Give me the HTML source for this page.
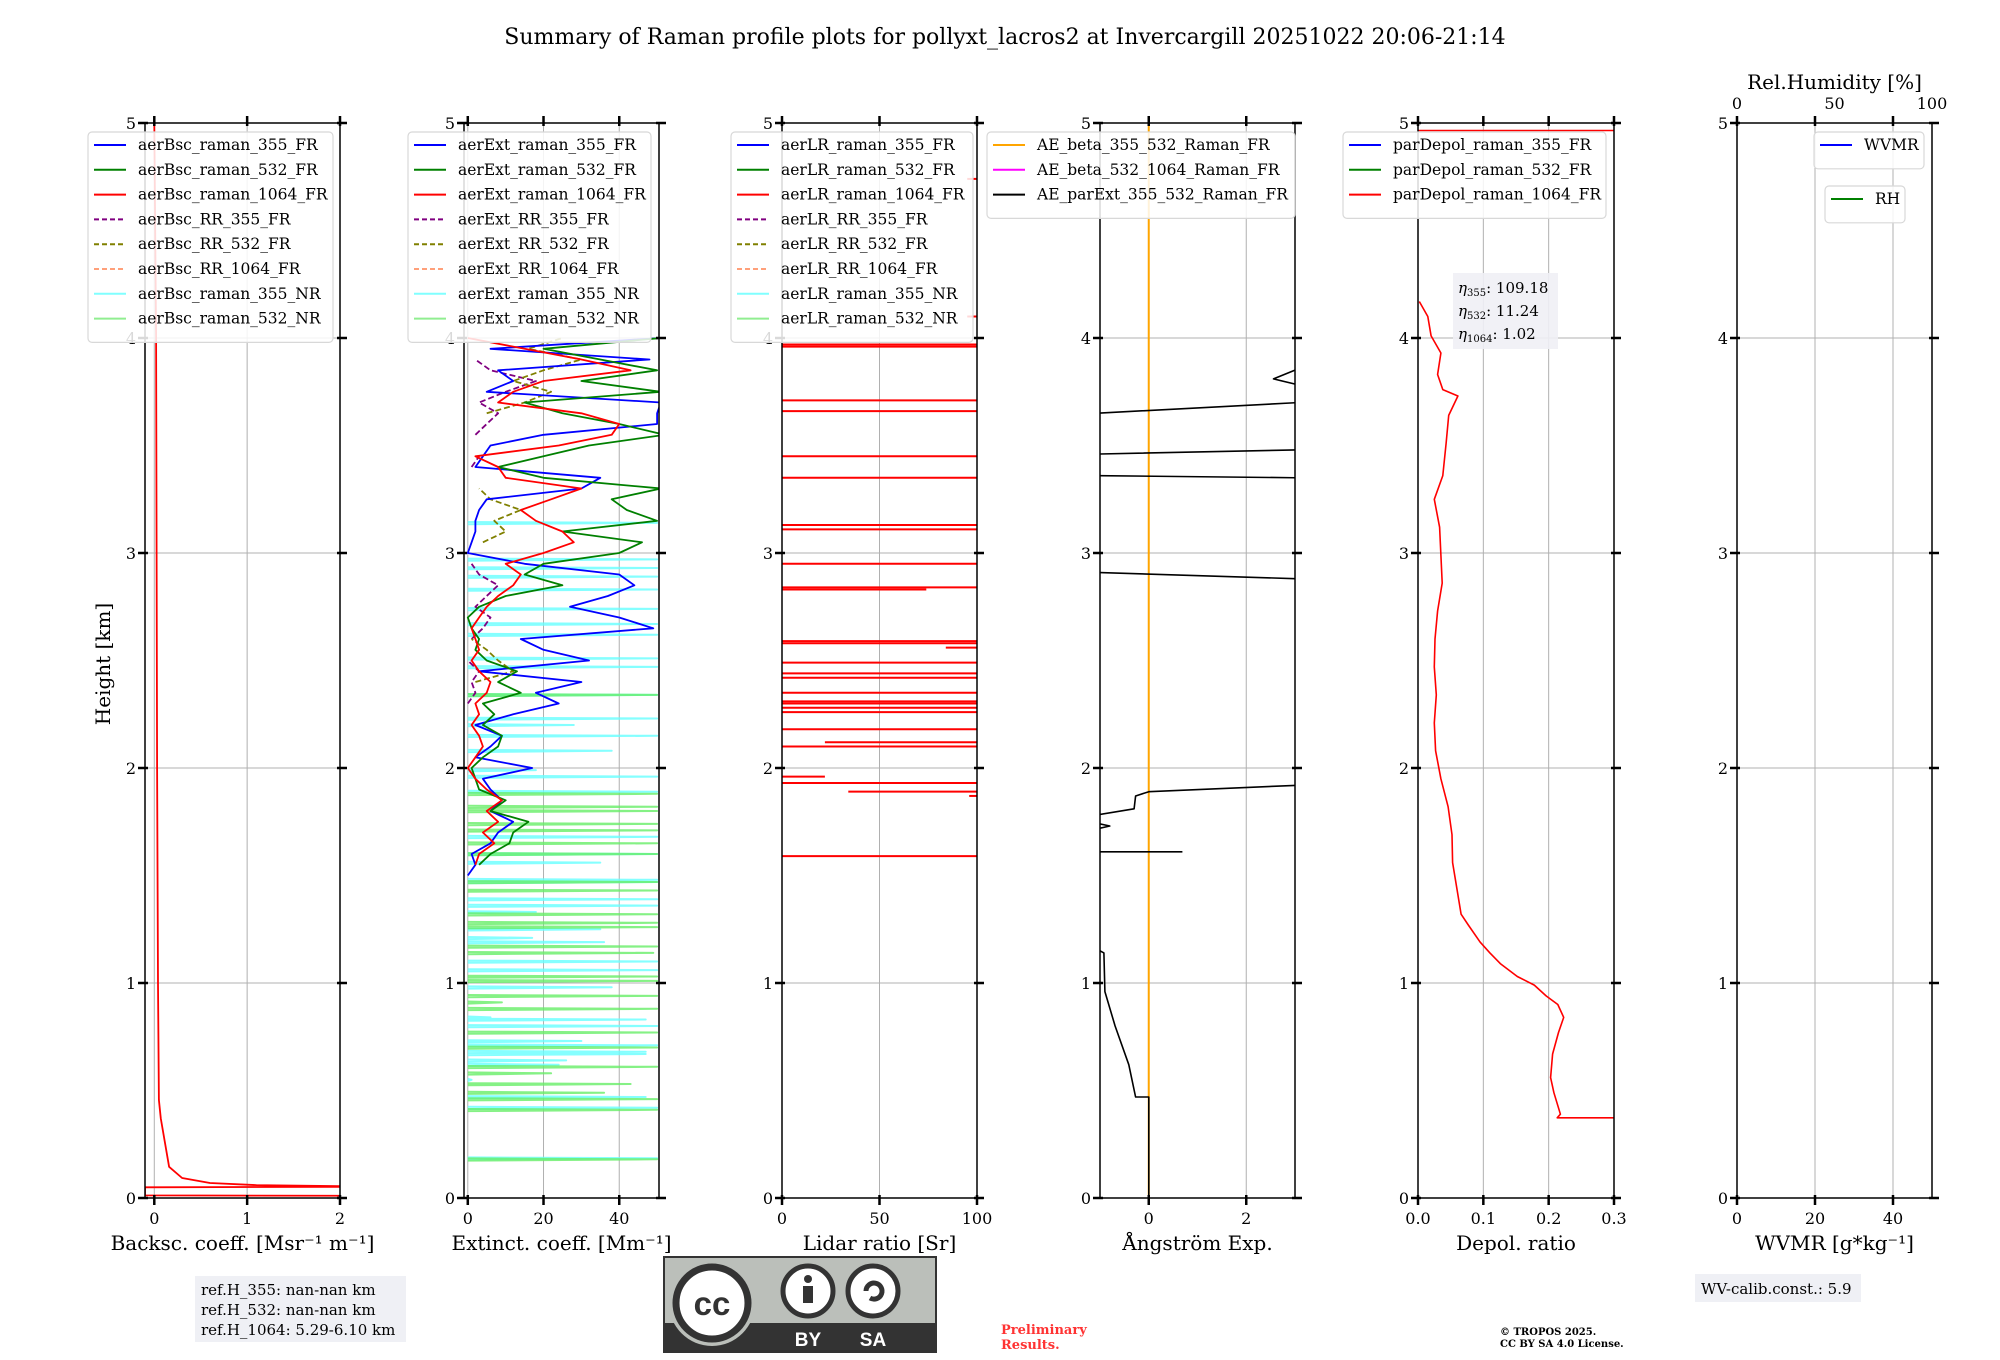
<!DOCTYPE html>
<html><head><meta charset="utf-8"><style>
body{margin:0;background:#fff}
svg{display:block;font-family:"DejaVu Serif","Liberation Serif",serif}
</style></head><body>
<svg id="fig" width="2000" height="1360" viewBox="0 0 2000 1360" xmlns="http://www.w3.org/2000/svg">
<text x="1005" y="44" font-size="22" text-anchor="middle">Summary of Raman profile plots for pollyxt_lacros2 at Invercargill 20251022 20:06-21:14</text>
<text x="110" y="664" font-size="20" text-anchor="middle" transform="rotate(-90 110 664)">Height [km]</text>
<g id="plots"></g>
<g>
<rect x="195" y="1276" width="211" height="66" fill="#eff0f5"/>
<text x="201" y="1295" font-size="15">ref.H_355: nan-nan km</text>
<text x="201" y="1315" font-size="15">ref.H_532: nan-nan km</text>
<text x="201" y="1335" font-size="15">ref.H_1064: 5.29-6.10 km</text>
</g>
<g>
<rect x="664" y="1257" width="272" height="95" fill="#bbbfba" stroke="#333" stroke-width="2"/>
<rect x="664" y="1323" width="272" height="29" fill="#333"/>
<circle cx="712" cy="1303" r="43" fill="#bbbfba"/>
<circle cx="712" cy="1303" r="36" fill="#fff" stroke="#333" stroke-width="7"/>
<text x="712" y="1315" font-size="33" font-weight="bold" font-family="Liberation Sans, sans-serif" text-anchor="middle" fill="#333">cc</text>
<circle cx="808" cy="1291" r="25" fill="#fff" stroke="#333" stroke-width="5"/>
<circle cx="808" cy="1279" r="4" fill="#333"/><rect x="803" y="1286" width="10" height="17" fill="#333"/>
<circle cx="873" cy="1291" r="25" fill="#fff" stroke="#333" stroke-width="5"/>
<path d="M866 1291 a8 8 0 1 1 4 7" fill="none" stroke="#333" stroke-width="5"/>
<text x="808" y="1346" font-size="19" font-weight="bold" font-family="Liberation Sans, sans-serif" fill="#fff" text-anchor="middle">BY</text>
<text x="873" y="1346" font-size="19" font-weight="bold" font-family="Liberation Sans, sans-serif" fill="#fff" text-anchor="middle">SA</text>
</g>
<text x="1001" y="1334" font-size="13" font-weight="bold" fill="#ff3333"><tspan x="1001">Preliminary</tspan><tspan x="1001" dy="15">Results.</tspan></text>
<text x="1500" y="1335" font-size="10" font-weight="bold"><tspan x="1500">© TROPOS 2025.</tspan><tspan x="1500" dy="12">CC BY SA 4.0 License.</tspan></text>
<g>
<rect x="1695" y="1274" width="166" height="28" fill="#eff0f5"/>
<text x="1701" y="1294" font-size="15">WV-calib.const.: 5.9</text>
</g>
</svg>
<script>
// ---------- data ----------
const bscHeights=[0.0,0.01,0.012,0.05,0.052,0.055,0.06,0.07,0.093,0.145,0.37,0.456,1.0,2.0,3.0,4.0,4.5,5.0];
const bscRaman1064=[2.1,2.1,-0.1,-0.1,2.1,2.0,1.1,0.6,0.3,0.16,0.07,0.05,0.04,0.03,0.025,0.02,0.01,0.0];

const extHeights=[1.50,1.55,1.60,1.65,1.70,1.75,1.80,1.85,1.90,1.95,2.00,2.05,2.10,2.15,2.20,2.25,2.30,2.35,2.40,2.45,2.50,2.55,2.60,2.65,2.70,2.75,2.80,2.85,2.90,2.95,3.00,3.05,3.10,3.15,3.20,3.25,3.30,3.35,3.40,3.45,3.50,3.55,3.60,3.65,3.70,3.75,3.80,3.85,3.90,3.95,4.00];
const ext355=[0,2,1,6,8,12,6,9,6,4,17,2,6,9,2,12,24,18,30,3,32,20,14,49,40,27,37,44,40,15,0,1,2,2,3,5,30,35,2,4,6,20,50,50,51,5,12,8,48,6,51];
const ext532=[null,3,6,11,12,16,6,10,3,2,1,4,8,9,4,7,4,14,8,13,5,2,3,1,0,3,10,25,15,20,40,46,25,50,42,38,51,20,8,20,32,52,40,25,15,51,30,50,35,20,51];
const ext1064=[null,2,3,7,4,8,5,9,5,2,0,2,4,3,1,3,2,5,6,3,1,3,2,1,3,5,8,12,14,10,20,28,25,18,14,22,30,10,8,2,24,38,40,30,8,12,20,43,30,15,0];
const extRR355=[null,null,null,null,null,null,null,null,null,null,null,null,null,null,null,null,0,2,1,3,0,null,1,4,6,2,5,8,3,1,null,null,null,null,null,null,null,null,1,3,null,2,5,8,3,10,18,6,2,null,null];
const extRR532=[null,null,null,null,null,null,null,null,null,null,null,null,null,null,null,null,null,null,2,12,8,5,1,null,null,null,null,null,null,null,null,4,10,7,14,6,3,null,null,null,null,null,null,5,15,22,12,20,30,16,25];
const nr355Heights=[0.185,0.42,0.47,0.55,0.62,0.64,0.67,0.68,0.71,0.73,0.80,0.83,0.84,0.98,1.06,1.10,1.19,1.21,1.25,1.33,1.36,1.39,1.47,1.48,1.56,1.60,1.68,1.89,1.96,1.99,2.08,2.15,2.20,2.23,2.34,2.47,2.51,2.62,2.67,2.74,2.83,2.89,2.93,2.97,3.14];
const nr355Values=[50,50,47,1,24,26,47,47,50,30,50,47,6,38,50,50,36,17,35,18,50,50,50,50,35,50,50,50,50,18,38,50,28,50,50,50,50,50,50,50,50,50,50,50,50];
const nr532Heights=[0.18,0.41,0.46,0.49,0.53,0.58,0.61,0.70,0.77,0.88,0.91,0.94,1.01,1.03,1.14,1.17,1.26,1.28,1.32,1.43,1.47,1.60,1.65,1.71,1.74,1.80,1.82,1.88,2.34];
const nr532Values=[50,50,50,36,43,22,50,50,50,50,9,50,50,50,49,50,50,50,50,50,50,50,50,50,50,50,50,50,50];

const lrHeights=[1.59,1.87,1.89,1.93,1.96,2.10,2.12,2.18,2.26,2.28,2.30,2.31,2.35,2.42,2.44,2.49,2.56,2.58,2.59,2.83,2.84,2.95,3.11,3.13,3.35,3.45,3.66,3.71,3.96,3.97,4.10,4.74];
const lrStart=[0,96,34,0,0,0,22,0,0,0,0,0,0,0,0,0,84,0,0,0,0,0,0,0,0,0,0,0,0,0,95,95];
const lrEnd=[100,100,100,100,20,100,100,100,100,100,100,100,100,100,100,100,100,100,100,72,100,100,100,100,100,100,100,100,100,100,100,100];

const aeHeights=[0,0.47,0.47,0.62,0.80,0.96,1.14,1.15,1.20,null,1.61,1.61,null,1.72,1.73,1.74,null,1.78,1.81,1.87,1.89,1.92,null,2.91,2.88,null,3.36,3.35,null,3.46,3.48,null,3.65,3.70,null,3.78,3.81,3.86];
const aeParExt=[0,0,-0.27,-0.41,-0.69,-0.9,-0.92,-1,-1.1,null,-1.1,0.69,null,-1,-0.8,-1,null,-1.1,-0.3,-0.27,0,3.1,null,-1.1,3.1,null,-1.1,3.1,null,-1.1,3.1,null,-1.1,3.1,null,3.1,2.56,3.1];

const dpHeights=[0.373,0.373,0.39,0.49,0.56,0.67,0.77,0.84,0.90,0.94,0.99,1.03,1.09,1.14,1.19,1.27,1.32,1.43,1.56,1.69,1.82,1.95,2.08,2.21,2.34,2.47,2.60,2.73,2.86,2.99,3.12,3.25,3.36,3.51,3.64,3.73,3.76,3.83,3.93,4.01,4.10,4.17,null,4.965,4.965];
const dpRaman1064=[0.31,0.213,0.218,0.208,0.203,0.206,0.215,0.223,0.214,0.196,0.178,0.152,0.126,0.110,0.095,0.077,0.066,0.060,0.053,0.052,0.046,0.035,0.027,0.025,0.028,0.025,0.026,0.030,0.037,0.035,0.033,0.025,0.038,0.043,0.047,0.061,0.038,0.030,0.035,0.020,0.015,0.002,null,0.0,0.31];

// ---------- layout ----------
const NS='http://www.w3.org/2000/svg';
const root=document.getElementById('plots');
const Y0=1198, PXKM=215;
function yPx(km){return Y0-km*PXKM;}
function mk(tag,attrs,parent){const e=document.createElementNS(NS,tag);for(const k in attrs)e.setAttribute(k,attrs[k]);(parent||root).appendChild(e);return e;}
const panels=[
 {id:'bsc',x0:145,x1:340,vmin:-0.1,vmax:2.0,ticks:[0,1,2],fmt:v=>String(v),label:'Backsc. coeff. [Msr\u207B\u00B9 m\u207B\u00B9]'},
 {id:'ext',x0:464,x1:659,vmin:-1,vmax:50.5,ticks:[0,20,40],fmt:v=>String(v),label:'Extinct. coeff. [Mm\u207B\u00B9]'},
 {id:'lr',x0:782,x1:977,vmin:0,vmax:100,ticks:[0,50,100],fmt:v=>String(v),label:'Lidar ratio [Sr]'},
 {id:'ae',x0:1100,x1:1295,vmin:-1,vmax:3,ticks:[0,2],fmt:v=>String(v),label:'\u00C5ngstr\u00F6m Exp.'},
 {id:'dp',x0:1418,x1:1614,vmin:0,vmax:0.3,ticks:[0,0.1,0.2,0.3],fmt:v=>v.toFixed(1),label:'Depol. ratio'},
 {id:'wv',x0:1737,x1:1932,vmin:0,vmax:50,ticks:[0,20,40],fmt:v=>String(v),label:'WVMR [g*kg\u207B\u00B9]'}
];
function xf(p){return v=>p.x0+(v-p.vmin)/(p.vmax-p.vmin)*(p.x1-p.x0);}
const yTicks=[0,1,2,3,4,5];

panels.forEach(p=>{
 const g=mk('g',{});
 
 
 const X=xf(p);
 const cp=mk('clipPath',{id:'clip-'+p.id},g);
 mk('rect',{x:p.x0,y:yPx(5),width:p.x1-p.x0,height:5*PXKM},cp);
 p.g=g;p.X=X;
 p.ticks.forEach(t=>{const l=mk('line',{x1:X(t),x2:X(t),y1:yPx(0),y2:yPx(5),stroke:'#b0b0b0','stroke-width':1},g);});
 yTicks.forEach(t=>{const l=mk('line',{x1:p.x0,x2:p.x1,y1:yPx(t),y2:yPx(t),stroke:'#b0b0b0','stroke-width':1},g);});
 p.data=mk('g',{'clip-path':'url(#clip-'+p.id+')'},g);
});

function polyline(p,heights,vals,color,opts){
 opts=opts||{};
 let d='',pen=false;
 for(let i=0;i<heights.length;i++){
  const h=heights[i],v=vals[i];
  if(h===null||v===null||h===undefined||v===undefined){pen=false;continue;}
  d+=(pen?'L':'M')+p.X(v).toFixed(1)+' '+yPx(h).toFixed(1);pen=true;
 }
 return mk('path',{d:d,fill:'none',stroke:color,'stroke-width':opts.w||1.8,'stroke-opacity':opts.a||1,'stroke-dasharray':opts.dash||'none','stroke-linejoin':'round'},p.data);
}
function spikes(p,hs,vs,color,a){
 const H=[],V=[];
 hs.forEach((h,i)=>{H.push(h-0.006,h,h+0.004,null);V.push(0,vs[i],0,null);});
 return polyline(p,H,V,color,{w:2,a:a});
}

let e=polyline(panels[0],bscHeights,bscRaman1064,'#ff0000',{w:1.8});


e=spikes(panels[1],nr355Heights,nr355Values,'#66ffff',0.8);


e=spikes(panels[1],nr532Heights,nr532Values,'#66ee66',0.8);


e=polyline(panels[1],extHeights,extRR355,'#800080',{dash:'6 3'});


e=polyline(panels[1],extHeights,extRR532,'#808000',{dash:'6 3'});


e=polyline(panels[1],extHeights,ext355,'#0000ff');


e=polyline(panels[1],extHeights,ext532,'#008000');


e=polyline(panels[1],extHeights,ext1064,'#ff0000');


lrHeights.forEach((h,i)=>{
 const l=mk('line',{x1:panels[2].X(lrStart[i]),x2:panels[2].X(lrEnd[i]+2),y1:yPx(h),y2:yPx(h),stroke:'#ff0000','stroke-width':2},panels[2].data);
 
 
});
e=mk('line',{x1:panels[3].X(0),x2:panels[3].X(0),y1:yPx(0),y2:yPx(5),stroke:'#ffa500','stroke-width':2},panels[3].data);


e=polyline(panels[3],aeHeights,aeParExt,'#000000',{w:1.6});


e=polyline(panels[4],dpHeights,dpRaman1064,'#ff0000',{w:1.6});



panels.forEach(p=>{
 const g=p.g,X=p.X;
 const fr=mk('rect',{x:p.x0,y:yPx(5),width:p.x1-p.x0,height:5*PXKM,fill:'none',stroke:'#000','stroke-width':1.5},g);
 
 
 yTicks.forEach(t=>{
  mk('line',{x1:p.x0-7,x2:p.x0+3,y1:yPx(t),y2:yPx(t),stroke:'#000','stroke-width':2.5},g);
  mk('line',{x1:p.x1-3,x2:p.x1+7,y1:yPx(t),y2:yPx(t),stroke:'#000','stroke-width':2.5},g);
  const tl=mk('text',{x:p.x0-9,y:yPx(t)+6,'font-size':16,'text-anchor':'end'},g);
  tl.textContent=String(t);
  
  
 });
 p.ticks.forEach(t=>{
  mk('line',{x1:X(t),x2:X(t),y1:yPx(0)-3,y2:yPx(0)+7,stroke:'#000','stroke-width':2.5},g);
  mk('line',{x1:X(t),x2:X(t),y1:yPx(5)-7,y2:yPx(5)+3,stroke:'#000','stroke-width':2.5},g);
  const tl=mk('text',{x:X(t),y:yPx(0)+26,'font-size':16,'text-anchor':'middle'},g);
  tl.textContent=p.fmt(t);
  
  
 });
 const xl=mk('text',{x:(p.x0+p.x1)/2,y:yPx(0)+52,'font-size':20,'text-anchor':'middle'},g);
 xl.textContent=p.label;
 
 
});
(function(){
 const p=panels[5],g=p.g;const rhTicks=[0,50,100];
 rhTicks.forEach(t=>{
  const x=p.x0+t/100*(p.x1-p.x0);
  const tl=mk('text',{x:x,y:yPx(5)-14,'font-size':16,'text-anchor':'middle'},g);
  tl.textContent=String(t);
  
  
 });
 const t=mk('text',{x:(p.x0+p.x1)/2,y:yPx(5)-34,'font-size':20,'text-anchor':'middle'},g);
 t.textContent='Rel.Humidity [%]';
 
 
})();

function legend(x,y,w,entries,name){
 const g=mk('g',{});
 
 
 const h=entries.length*24.8+12;
 mk('rect',{x:x,y:y,width:w,height:h,rx:4,fill:'#fff','fill-opacity':0.85,stroke:'#d8d8d8','stroke-width':1.2},g);
 entries.forEach((en,i)=>{
  const yy=y+13+i*24.8;
  mk('line',{x1:x+6,x2:x+38,y1:yy,y2:yy,stroke:en[1],'stroke-width':2,'stroke-dasharray':en[2]?'5 3':'none'},g);
  const t=mk('text',{x:x+50,y:yy+5,'font-size':15.5},g);
  t.textContent=en[0];
  
  
 });
}
const cols=['#0000ff','#008000','#ff0000','#800080','#808000','#ffa07a','#80ffff','#90ee90'];
const sfx=['raman_355_FR','raman_532_FR','raman_1064_FR','RR_355_FR','RR_532_FR','RR_1064_FR','raman_355_NR','raman_532_NR'];
legend(88,132,245,sfx.map((s,i)=>['aerBsc_'+s,cols[i],i>=3&&i<=5]),'bsc-legend');
legend(408,132,243,sfx.map((s,i)=>['aerExt_'+s,cols[i],i>=3&&i<=5]),'ext-legend');
legend(731,132,242,sfx.map((s,i)=>['aerLR_'+s,cols[i],i>=3&&i<=5]),'lr-legend');
legend(987,132,308,[['AE_beta_355_532_Raman_FR','#ffa500'],['AE_beta_532_1064_Raman_FR','#ff00ff'],['AE_parExt_355_532_Raman_FR','#000000']],'ae-legend');
legend(1343,132,263,[['parDepol_raman_355_FR','#0000ff'],['parDepol_raman_532_FR','#008000'],['parDepol_raman_1064_FR','#ff0000']],'depol-legend');
legend(1814,132,110,[['WVMR','#0000ff']],'wvmr-legend');
legend(1825,186,80,[['RH','#008000']],'rh-legend');

(function(){
 const g=mk('g',{});
 
 
 mk('rect',{x:1453,y:273,width:105,height:76,fill:'#eff0f5','fill-opacity':0.9},g);
 const rows=[['355','109.18'],['532','11.24'],['1064','1.02']];
 rows.forEach((r,i)=>{
  const t=mk('text',{x:1458,y:293+i*23,'font-size':15},g);
  t.innerHTML='<tspan font-style="italic">η</tspan><tspan font-size="10" dy="3">'+r[0]+'</tspan><tspan dy="-3">: '+r[1]+'</tspan>';
 });
})();
</script>
</body></html>
